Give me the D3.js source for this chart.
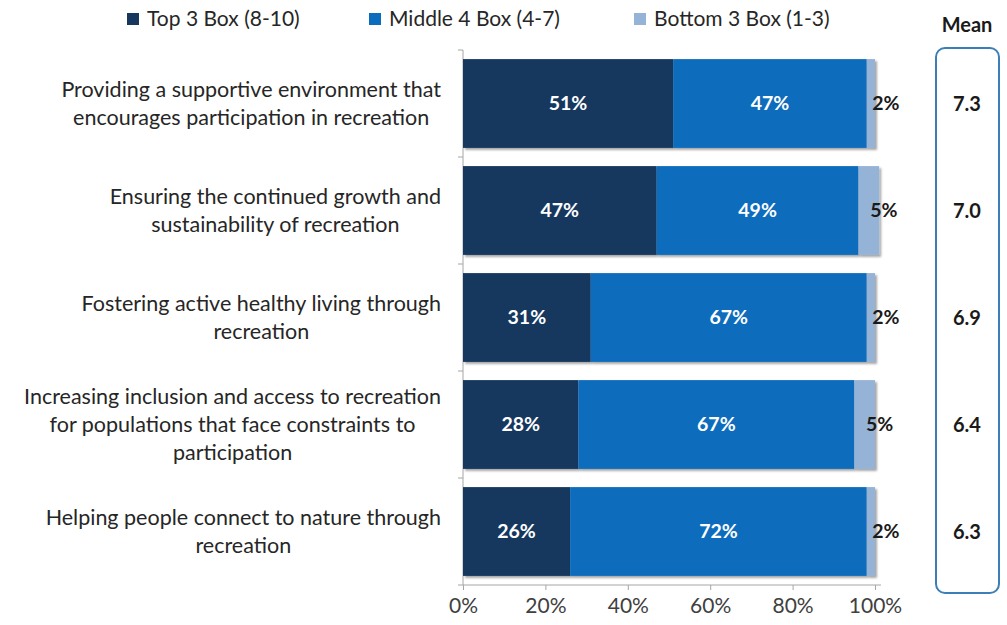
<!DOCTYPE html>
<meta charset="utf-8">
<style>
  body { margin: 0; background: #fff; }
  text { font-family: Lato, "Open Sans", sans-serif; }
  .axis path, .axis line { stroke: #a6a6a6; }
  .axis text { font-size: 21px; fill: #404040; font-family: Lato, sans-serif; }
</style>
<svg width="1007" height="625"></svg>
<script src="https://d3js.org/d3.v7.min.js"></script>
<script>

var categories = [
  ["Providing a supportive environment that", "encourages participation in recreation"],
  ["Ensuring the continued growth and", "sustainability of recreation"],
  ["Fostering active healthy living through", "recreation"],
  ["Increasing inclusion and access to recreation", "for populations that face constraints to", "participation"],
  ["Helping people connect to nature through", "recreation"]
];
var seriesNames = ["Top 3 Box (8-10)", "Middle 4 Box (4-7)", "Bottom 3 Box (1-3)"];
var top3 = [51, 47, 31, 28, 26];
var middle4 = [47, 49, 67, 67, 72];
var bottom3 = [2, 5, 2, 5, 2];
var means = ["7.3", "7.0", "6.9", "6.4", "6.3"];
var xTicks = [0, 20, 40, 60, 80, 100];

var colors = ["#17375e", "#0a6cbc", "#95b3d7"];

var svg = d3.select("svg");

var defs = svg.append("defs");
defs.append("filter").attr("id", "shadow")
    .attr("x", "-5%").attr("y", "-10%").attr("width", "115%").attr("height", "130%")
  .append("feDropShadow")
    .attr("dx", 2).attr("dy", 2).attr("stdDeviation", 1.2)
    .attr("flood-color", "#000").attr("flood-opacity", 0.35);

var x = d3.scaleLinear().domain([0, 100]).range([463, 875]);
var y = d3.scaleBand()
    .domain(d3.range(categories.length))
    .range([50, 585])
    .paddingInner(0.17)
    .paddingOuter(0.085);

var rows = categories.map(function(c, i) {
  return { i: i, lines: c, vals: [top3[i], middle4[i], bottom3[i]], mean: means[i] };
});

// axes
svg.append("g").attr("class", "axis")
    .attr("transform", "translate(0,585)")
    .call(d3.axisBottom(x).tickValues(xTicks).tickSize(5).tickPadding(8)
      .tickFormat(function(d) { return d + "%"; }))
    .call(function(g) { g.select(".domain").attr("d", "M463,0H881"); });

svg.append("line")
    .attr("x1", 463).attr("x2", 463).attr("y1", 50).attr("y2", 585)
    .attr("stroke", "#a6a6a6");
svg.selectAll(".ytick")
    .data(d3.range(categories.length + 1))
  .enter().append("line")
    .attr("x1", 458).attr("x2", 463)
    .attr("y1", function(d) { return 50 + d * y.step(); })
    .attr("y2", function(d) { return 50 + d * y.step(); })
    .attr("stroke", "#a6a6a6");

// bars
var row = svg.selectAll(".row").data(rows).enter().append("g")
    .attr("class", "row");

row.each(function(r) {
  var g = d3.select(this);
  var acc = 0;
  var segs = r.vals.map(function(v, k) {
    var s = { k: k, v: v, x0: acc, x1: acc + v };
    acc += v;
    return s;
  });
  var bg = g.append("g").attr("filter", "url(#shadow)");
  bg.selectAll("rect").data(segs).enter().append("rect")
      .attr("x", function(s) { return x(s.x0); })
      .attr("width", function(s) { return x(s.x1) - x(s.x0); })
      .attr("y", y(r.i))
      .attr("height", y.bandwidth())
      .attr("fill", function(s) { return colors[s.k]; });

  g.selectAll(".val").data(segs).enter().append("text")
      .attr("x", function(s) { return s.k == 2 ? x((s.x0 + s.x1) / 2) + 15 : x((s.x0 + s.x1) / 2); })
      .attr("y", y(r.i) + y.bandwidth() / 2)
      .attr("dy", "0.35em")
      .attr("text-anchor", "middle")
      .style("font-size", "19.5px")
      .style("font-weight", "bold")
      .attr("fill", function(s) { return s.k == 2 ? "#1a1a1a" : "#fff"; })
      .text(function(s) { return s.v + "%"; });

  // category label, lines centred inside a block that is right aligned
  var lab = g.append("text")
      .style("font-size", "21.5px")
      .attr("fill", "#262626");
  var n = r.lines.length;
  var cy = y(r.i) + y.bandwidth() / 2;
  r.lines.forEach(function(line, j) {
    lab.append("tspan").attr("y", cy + (j - (n - 1) / 2) * 28).attr("dy", "0.35em").text(line);
  });
  var maxW = 0;
  lab.selectAll("tspan").each(function() { maxW = Math.max(maxW, this.getComputedTextLength()); });
  lab.attr("text-anchor", "middle");
  lab.selectAll("tspan").attr("x", 441 - maxW / 2);

  g.append("text")
      .attr("x", 967)
      .attr("y", cy)
      .attr("dy", "0.35em")
      .attr("text-anchor", "middle")
      .style("font-size", "20px")
      .style("font-weight", "bold")
      .attr("fill", "#1a1a1a")
      .text(r.mean);
});

// mean box
svg.append("text")
    .attr("x", 967).attr("y", 25).attr("dy", "0.35em")
    .attr("text-anchor", "middle")
    .style("font-size", "20px").style("font-weight", "bold")
    .attr("fill", "#1a1a1a")
    .text("Mean");
svg.append("rect")
    .attr("x", 936).attr("y", 48).attr("width", 63).attr("height", 545)
    .attr("rx", 9)
    .attr("fill", "none")
    .attr("stroke", "#3c7fb6")
    .attr("stroke-width", 2);

// legend
var legX = [127, 369, 634];
var leg = svg.selectAll(".leg").data(seriesNames).enter().append("g")
    .attr("transform", function(d, i) { return "translate(" + legX[i] + ",19)"; });
leg.append("rect")
    .attr("x", 0).attr("y", -6).attr("width", 12).attr("height", 12)
    .attr("fill", function(d, i) { return colors[i]; });
leg.append("text")
    .attr("x", 20).attr("dy", "0.35em")
    .style("font-size", "21px")
    .attr("fill", "#262626")
    .text(function(d) { return d; });

</script>
